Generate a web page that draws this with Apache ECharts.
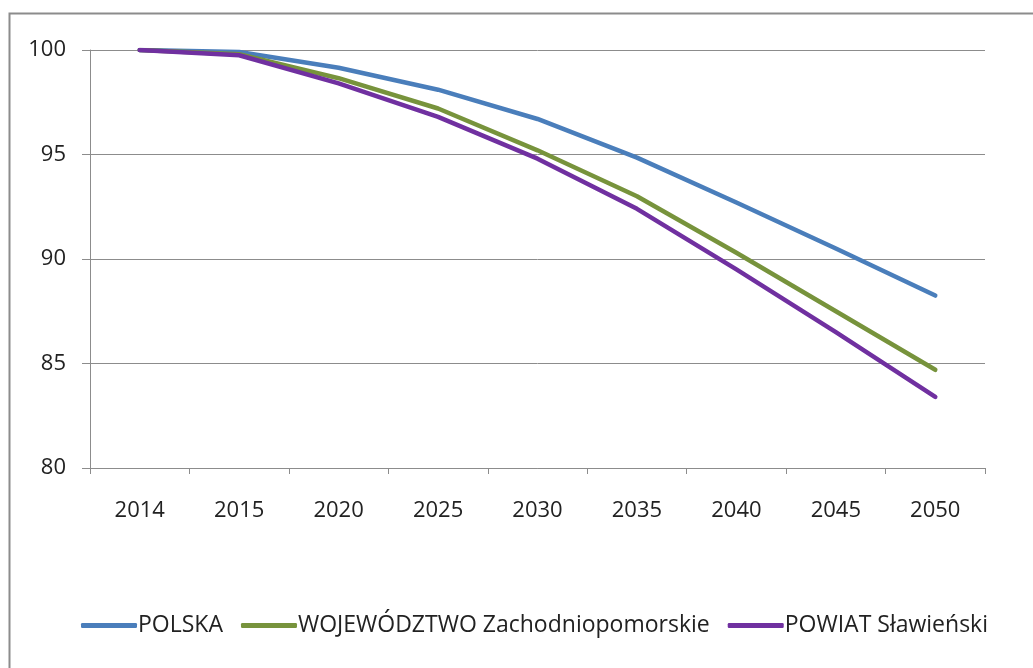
<!DOCTYPE html>
<html>
<head>
<meta charset="utf-8">
<script src="https://cdn.jsdelivr.net/npm/echarts@6/dist/echarts.min.js"></script>
<style>
html, body { margin: 0; padding: 0; background: #fff; }
#main { width: 1033px; height: 668px; }
</style>
</head>
<body>
<div id="main"></div>
<script>
var years = ['2014', '2015', '2020', '2025', '2030', '2035', '2040', '2045', '2050'];
var polska = [100, 99.9, 99.15, 98.1, 96.7, 94.85, 92.7, 90.5, 88.25];
var wojewodztwo = [100, 99.8, 98.65, 97.2, 95.2, 93.0, 90.3, 87.5, 84.7];
var powiat = [100, 99.75, 98.4, 96.8, 94.8, 92.4, 89.5, 86.5, 83.4];

var seriesNames = ['POLSKA', 'WOJEWÓDZTWO Zachodniopomorskie', 'POWIAT Sławieński'];
var colors = ['#4a7ebb', '#77933c', '#7030a0'];

var myChart = echarts.init(document.getElementById('main'));

function makeLine(name, values, color) {
    return {
        name: name,
        type: 'line',
        data: values,
        symbol: 'none',
        lineStyle: { width: 4.5, color: color, cap: 'round', join: 'round' },
        itemStyle: { color: color }
    };
}

var option = {
    animation: false,
    textStyle: { fontFamily: 'Open Sans, sans-serif' },
    graphic: [{
        type: 'rect',
        shape: { x: 9.5, y: 13.5, width: 1040, height: 670 },
        style: { fill: 'none', stroke: '#8c8c8c', lineWidth: 2 }
    }],
    grid: { left: 90, right: 48, top: 50, bottom: 200, containLabel: false },
    legend: {
        top: 609,
        left: 76,
        itemWidth: 56,
        itemHeight: 5,
        itemGap: 18,
        icon: 'roundRect',
        textStyle: { fontSize: 23, color: '#222', padding: [0, 0, 0, -4] },
        data: seriesNames
    },
    xAxis: {
        type: 'category',
        data: years,
        boundaryGap: true,
        axisLine: { lineStyle: { color: '#8c8c8c', width: 1 } },
        axisTick: { show: true, length: 6, lineStyle: { color: '#8c8c8c' } },
        axisLabel: { fontSize: 22, color: '#222', margin: 32 }
    },
    yAxis: {
        type: 'value',
        min: 80,
        max: 100,
        interval: 5,
        axisLine: { show: true, lineStyle: { color: '#8c8c8c', width: 1 } },
        axisTick: { show: true, inside: false, length: 8, lineStyle: { color: '#8c8c8c' } },
        axisLabel: { fontSize: 22, color: '#222', margin: 24 },
        splitLine: { lineStyle: { color: '#8c8c8c', width: 1 } }
    },
    series: [
        makeLine(seriesNames[0], polska, colors[0]),
        makeLine(seriesNames[1], wojewodztwo, colors[1]),
        makeLine(seriesNames[2], powiat, colors[2])
    ]
};

myChart.setOption(option);
</script>
</body>
</html>
